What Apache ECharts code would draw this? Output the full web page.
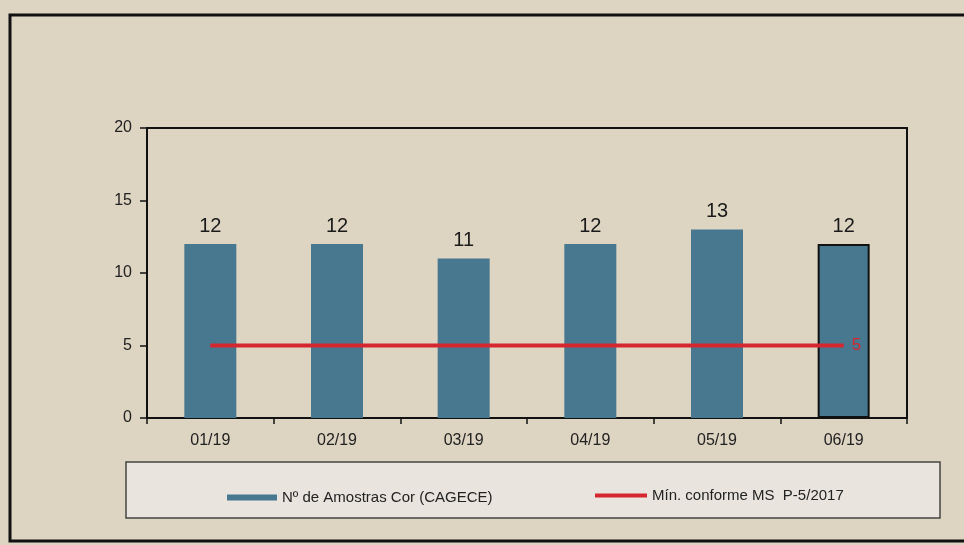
<!DOCTYPE html>
<html>
<head>
<meta charset="utf-8">
<script src="https://cdn.jsdelivr.net/npm/echarts@6/dist/echarts.min.js"></script>
<style>
  html, body { margin: 0; padding: 0; background: #e9e3d8; }
  #chart { width: 964px; height: 545px; }
</style>
</head>
<body>
<div id="chart"></div>
<script>
  // data
  const months = ['01/19', '02/19', '03/19', '04/19', '05/19', '06/19'];
  const amostras = [12, 12, 11, 12, 13, 12];
  const minimo = [5, 5, 5, 5, 5, 5];
  const yTicks = [0, 5, 10, 15, 20];

  const FONT = '"Liberation Sans", Arial, sans-serif';
  const BLUE = '#48788f';
  const RED = '#d6262f';

  const chart = echarts.init(document.getElementById('chart'));

  const barData = amostras.map((v, i) => {
    if (i === amostras.length - 1) {
      return { value: v, itemStyle: { borderColor: '#111', borderWidth: 2 } };
    }
    return v;
  });

  chart.setOption({
    backgroundColor: '#ddd4c2',
    textStyle: { fontFamily: FONT },
    graphic: [
      {
        type: 'rect',
        shape: { x: 10, y: 15, width: 970, height: 526 },
        style: { fill: 'transparent', stroke: '#111', lineWidth: 3 },
        z: -1,
      },
      {
        type: 'rect',
        shape: { x: 126, y: 462, width: 814, height: 56 },
        style: { fill: '#e9e5de', stroke: '#444', lineWidth: 1.5 },
        z: -1,
      },
    ],
    grid: {
      left: 147,
      right: 57,
      top: 128,
      bottom: 127,
      show: true,
      borderColor: '#111',
      borderWidth: 2,
      backgroundColor: 'transparent',
    },
    legend: [
      {
        data: ['Nº de Amostras Cor (CAGECE)'],
        left: 222,
        top: 485,
        icon: 'rect',
        itemWidth: 50,
        itemHeight: 6,
        itemGap: 6,
        textStyle: { fontSize: 15, color: '#222', fontFamily: FONT },
      },
      {
        data: ['Mín. conforme MS  P-5/2017'],
        left: 590,
        top: 483,
        icon: 'rect',
        itemWidth: 52,
        itemHeight: 4,
        textStyle: { fontSize: 15, color: '#222', fontFamily: FONT },
      },
    ],
    xAxis: {
      type: 'category',
      data: months,
      axisLine: { lineStyle: { color: '#111', width: 2 } },
      axisTick: { show: true, length: 6, lineStyle: { color: '#111', width: 1.5 } },
      axisLabel: { fontSize: 16, color: '#222', margin: 15 },
    },
    yAxis: {
      type: 'value',
      min: yTicks[0],
      max: yTicks[yTicks.length - 1],
      interval: 5,
      splitLine: { show: false },
      axisLine: { show: true, lineStyle: { color: '#111', width: 2 } },
      axisTick: { show: true, length: 7, lineStyle: { color: '#111', width: 1.5 } },
      axisLabel: { fontSize: 16, color: '#222', margin: 15 },
    },
    series: [
      {
        name: 'Nº de Amostras Cor (CAGECE)',
        type: 'bar',
        data: barData,
        barWidth: 52,
        itemStyle: { color: BLUE },
        label: {
          show: true,
          position: 'top',
          distance: 8,
          fontSize: 20,
          color: '#1a1a1a',
        },
      },
      {
        name: 'Mín. conforme MS  P-5/2017',
        type: 'line',
        data: minimo,
        symbol: 'none',
        lineStyle: { color: RED, width: 4 },
        itemStyle: { color: RED },
        endLabel: {
          show: true,
          distance: 8,
          color: RED,
          fontSize: 17,
          fontFamily: FONT,
          formatter: '{c}',
        },
        z: 5,
      },
    ],
  });
</script>
</body>
</html>
